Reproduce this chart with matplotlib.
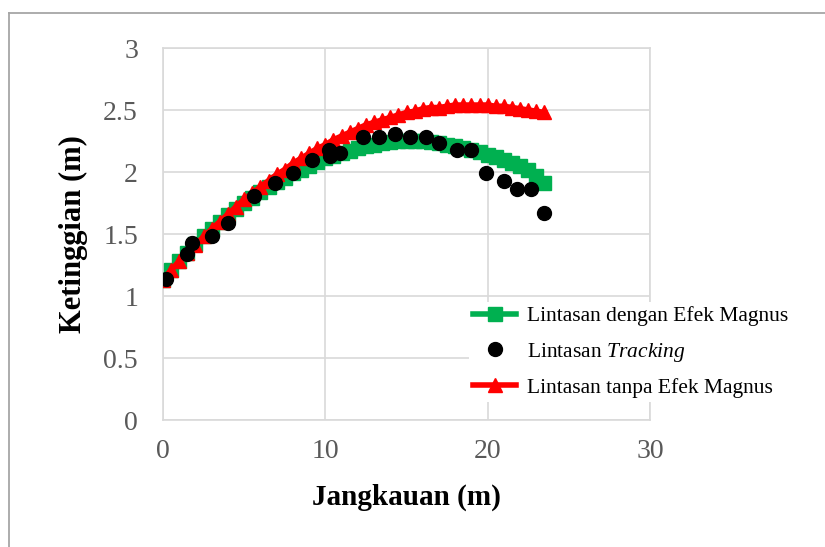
import matplotlib
matplotlib.use("Agg")
import matplotlib.pyplot as plt
from matplotlib.lines import Line2D

plt.rcParams["font.family"] = ["Liberation Serif", "DejaVu Serif"]
plt.rcParams["mathtext.fontset"] = "custom"
plt.rcParams["mathtext.rm"] = "Liberation Serif"
plt.rcParams["mathtext.it"] = "Liberation Serif:italic"

# --- data ---
x_model = [0.0, 0.5, 1.0, 1.5, 2.0, 2.5, 3.0, 3.5, 4.0, 4.5, 5.0, 5.5,
           6.0, 6.5, 7.0, 7.5, 8.0, 8.5, 9.0, 9.5, 10.0, 10.5, 11.0, 11.5,
           12.0, 12.5, 13.0, 13.5, 14.0, 14.5, 15.0, 15.5, 16.0, 16.5, 17.0, 17.5,
           18.0, 18.5, 19.0, 19.5, 20.0, 20.5, 21.0, 21.5, 22.0, 22.5, 23.0, 23.5]

y_magnus = [1.13, 1.21, 1.28, 1.35, 1.42, 1.48, 1.54, 1.60, 1.65, 1.70, 1.75, 1.79,
            1.84, 1.88, 1.92, 1.95, 1.99, 2.02, 2.05, 2.08, 2.11, 2.13, 2.15, 2.17,
            2.19, 2.21, 2.22, 2.23, 2.24, 2.25, 2.25, 2.25, 2.25, 2.24, 2.23, 2.22,
            2.21, 2.19, 2.18, 2.16, 2.14, 2.12, 2.10, 2.07, 2.05, 2.02, 1.97, 1.91]

y_no_magnus = [1.13, 1.21, 1.28, 1.35, 1.41, 1.48, 1.54, 1.60, 1.66, 1.72, 1.78, 1.83,
               1.88, 1.93, 1.98, 2.02, 2.07, 2.11, 2.15, 2.19, 2.22, 2.26, 2.29, 2.32,
               2.35, 2.38, 2.40, 2.42, 2.44, 2.46, 2.48, 2.49, 2.51, 2.52, 2.52, 2.53,
               2.54, 2.54, 2.54, 2.54, 2.54, 2.53, 2.53, 2.52, 2.51, 2.50, 2.49, 2.48]

x_track = [0.2, 1.5, 1.8, 3.0, 4.0, 5.6, 6.9, 8.0, 9.2, 10.2, 10.3, 10.9,
           12.3, 13.3, 14.3, 15.2, 16.2, 17.0, 18.1, 19.0, 19.9, 21.0, 21.8, 22.7, 23.5]
y_track = [1.14, 1.34, 1.43, 1.48, 1.59, 1.81, 1.91, 1.99, 2.10, 2.18, 2.13, 2.15,
           2.28, 2.28, 2.31, 2.28, 2.28, 2.23, 2.18, 2.18, 1.99, 1.93, 1.86, 1.86, 1.67]

labels = ["Lintasan dengan Efek Magnus", "Lintasan $\\it{Tracking}$",
          "Lintasan tanpa Efek Magnus"]
x_ticks = [0, 10, 20, 30]
y_ticks = [0, 0.5, 1, 1.5, 2, 2.5, 3]
y_tick_labels = ["0", "0.5", "1", "1.5", "2", "2.5", "3"]

GREEN = "#00b050"
RED = "#ff0000"
GRID = "#d9d9d9"

fig = plt.figure(figsize=(8.25, 5.47), dpi=100)
ax = fig.add_axes([163 / 825, 127 / 547, 487 / 825, 372 / 547])

ax.plot(x_model, y_magnus, color=GREEN, lw=4, marker="s", ms=9.5,
        mec=GREEN, mfc=GREEN, label=labels[0], zorder=3)
ax.plot(x_track, y_track, ls="none", marker="o", ms=10, color="black",
        label=labels[1], zorder=5)
ax.plot(x_model, y_no_magnus, color=RED, lw=4, marker="^", ms=10.5,
        mec=RED, mfc=RED, label=labels[2], zorder=4)

ax.set_xlim(0, 30)
ax.set_ylim(0, 3)
ax.set_xticks(x_ticks)
ax.set_yticks(y_ticks)
ax.set_yticklabels(y_tick_labels)
ax.grid(True, color=GRID, lw=1.2)
ax.set_axisbelow(True)
for s in ax.spines.values():
    s.set_color(GRID)
    s.set_linewidth(1.2)
ax.tick_params(length=0, labelsize=20, labelcolor="#595959")
ax.tick_params(axis="y", pad=18)
ax.tick_params(axis="x", pad=14)

ax.set_xlabel("Jangkauan (m)", fontsize=21, fontweight="bold", labelpad=14)
ax.set_ylabel("Ketinggian (m)", fontsize=22, fontweight="bold", labelpad=11)

fig.legend(loc="upper left", bbox_to_anchor=(469 / 825, 1 - 302 / 547),
           frameon=True, facecolor="white", edgecolor="none", framealpha=1,
           fontsize=15.5, handlelength=2.0, handletextpad=0.5,
           labelspacing=0.66, borderpad=0.2, borderaxespad=0)

# outer frame (left and top edges visible)
fig.add_artist(Line2D([8.5 / 825, 8.5 / 825], [0, 1 - 12.5 / 547],
                      color="#a6a6a6", lw=1.3, transform=fig.transFigure))
fig.add_artist(Line2D([8.5 / 825, 1], [1 - 12.5 / 547, 1 - 12.5 / 547],
                      color="#a6a6a6", lw=1.3, transform=fig.transFigure))

fig.savefig("out.png", dpi=100)
